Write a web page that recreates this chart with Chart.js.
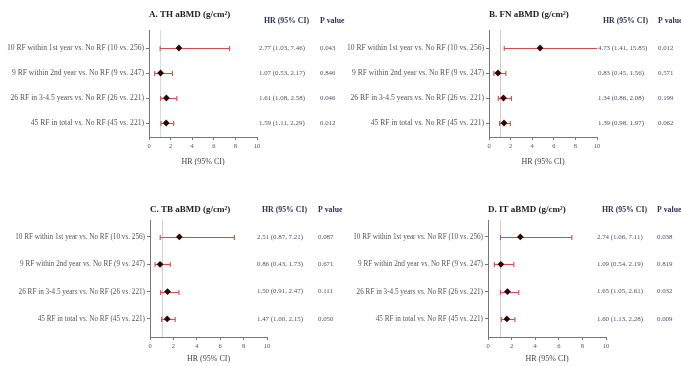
<!DOCTYPE html>
<html><head><meta charset="utf-8">
<script src="https://cdn.jsdelivr.net/npm/chart.js@4"></script>
<style>
html,body{margin:0;padding:0;background:#fff;width:681px;height:366px;overflow:hidden;position:relative}
canvas{position:absolute;background:transparent}
</style></head><body>
<canvas id="cA" width="350" height="183" style="left:0px;top:0px"></canvas>
<canvas id="cB" width="341" height="183" style="left:340px;top:0px"></canvas>
<canvas id="cC" width="350" height="183" style="left:0px;top:183px"></canvas>
<canvas id="cD" width="341" height="183" style="left:340px;top:183px"></canvas>
<script>
// ---- data ----
const rowLabels = [
  "10 RF within 1st year vs. No RF (10 vs. 256)",
  "9 RF within 2nd year vs. No RF (9 vs. 247)",
  "26 RF in 3-4.5 years vs. No RF (26 vs. 221)",
  "45 RF in total vs. No RF (45 vs. 221)"
];
const panelTitles = ["A. TH aBMD (g/cm\u00B2)", "B. FN aBMD (g/cm\u00B2)", "C. TB aBMD (g/cm\u00B2)", "D. IT aBMD (g/cm\u00B2)"];
const colHeaders = ["HR (95% CI)", "P value"];
const xAxisTitle = "HR (95% CI)";
const xTicks = [0, 2, 4, 6, 8, 10];

const hrA = [2.77, 1.07, 1.61, 1.59];
const loA = [1.03, 0.53, 1.08, 1.11];
const hiA = [7.46, 2.17, 2.58, 2.29];
const pA  = ["0.043", "0.846", "0.046", "0.012"];

const hrB = [4.73, 0.83, 1.34, 1.39];
const loB = [1.41, 0.45, 0.86, 0.98];
const hiB = [15.85, 1.56, 2.08, 1.97];
const pB  = ["0.012", "0.571", "0.199", "0.062"];

const hrC = [2.51, 0.86, 1.50, 1.47];
const loC = [0.87, 0.43, 0.91, 1.00];
const hiC = [7.21, 1.73, 2.47, 2.15];
const pC  = ["0.087", "0.671", "0.111", "0.050"];

const hrD = [2.74, 1.09, 1.65, 1.60];
const loD = [1.06, 0.54, 1.05, 1.13];
const hiD = [7.11, 2.19, 2.61, 2.28];
const pD  = ["0.038", "0.819", "0.032", "0.009"];

// ---- layout / style ----
const FONT = "'Liberation Serif', 'Times New Roman', serif";
const panels = [
  {id:'cA', w:350, h:183, title:panelTitles[0], hr:hrA, lo:loA, hi:hiA, p:pA,
   area:[149,257,30,137], yMin:0.28, yMax:4.56, titleY:15, headY:21, hrX:259, pX:320, xTitlePad:16, ref:'#c9e4df', lblSize:7.6},
  {id:'cB', w:341, h:183, title:panelTitles[1], hr:hrB, lo:loB, hi:hiB, p:pB,
   area:[149,257,30,137], yMin:0.28, yMax:4.56, titleY:15, headY:21, hrX:258, pX:318, xTitlePad:16, ref:'#dccaca', lblSize:7.6},
  {id:'cC', w:350, h:183, title:panelTitles[2], hr:hrC, lo:loC, hi:hiC, p:pC,
   area:[150,267,37,154], yMin:0.38, yMax:4.66, titleY:27, headY:27, hrX:257, pX:318, xTitlePad:2, ref:'#dccaca', lblSize:7.2},
  {id:'cD', w:341, h:183, title:panelTitles[3], hr:hrD, lo:loD, hi:hiD, p:pD,
   area:[148,266,37,154], yMin:0.38, yMax:4.66, titleY:27, headY:27, hrX:257, pX:317, xTitlePad:2, ref:'#d6d0d0', lblSize:7.2}
];

const forestPlugin = {
  id: 'forest',
  beforeDatasetsDraw(chart) {
    const P = chart.options.plugins.forest;
    const {ctx, chartArea: ca} = chart;
    const xs = chart.scales.x, ys = chart.scales.y;
    ctx.save();
    const xr = Math.round(xs.getPixelForValue(1)) + 0.5;
    ctx.strokeStyle = P.ref; ctx.lineWidth = 1;
    ctx.beginPath(); ctx.moveTo(xr, ca.top); ctx.lineTo(xr, ca.bottom); ctx.stroke();
    ctx.strokeStyle = '#d44c4c'; ctx.lineWidth = 1.1;
    P.lo.forEach((lo, i) => {
      const hi = P.hi[i];
      const y = Math.round(ys.getPixelForValue(i + 1)) + 0.5;
      const x1 = xs.getPixelForValue(lo);
      const x2 = xs.getPixelForValue(Math.min(hi, xs.max));
      ctx.beginPath(); ctx.moveTo(x1, y); ctx.lineTo(x2, y); ctx.stroke();
      ctx.beginPath(); ctx.moveTo(x1, y - 2.5); ctx.lineTo(x1, y + 2.5); ctx.stroke();
      if (hi <= xs.max) { ctx.beginPath(); ctx.moveTo(x2, y - 2.5); ctx.lineTo(x2, y + 2.5); ctx.stroke(); }
    });
    ctx.restore();
  },
  afterDraw(chart) {
    const P = chart.options.plugins.forest;
    const {ctx, chartArea: ca} = chart;
    const ys = chart.scales.y;
    ctx.save();
    ctx.textBaseline = 'middle'; ctx.textAlign = 'left';
    ctx.fillStyle = '#222';
    ctx.font = `bold 9px ${FONT}`;
    ctx.fillText(P.title, ca.left, P.titleY);
    ctx.fillStyle = '#33335a';
    ctx.font = `bold 7.8px ${FONT}`;
    ctx.fillText(colHeaders[0], P.hrX + 5, P.headY);
    ctx.fillText(colHeaders[1], P.pX, P.headY);
    ctx.fillStyle = '#50506a';
    ctx.font = `6.9px ${FONT}`;
    P.hr.forEach((v, i) => {
      const y = ys.getPixelForValue(i + 1);
      ctx.fillText(`${v.toFixed(2)} (${P.lo[i].toFixed(2)}, ${P.hi[i].toFixed(2)})`, P.hrX, y);
      ctx.fillText(P.p[i], P.pX, y);
    });
    ctx.restore();
  }
};

panels.forEach(pn => {
  const [l, r, t, b] = pn.area;
  new Chart(document.getElementById(pn.id), {
    type: 'scatter',
    data: { datasets: [{
      data: pn.hr.map((v, i) => ({x: v, y: i + 1})),
      pointStyle: 'rectRot', pointRadius: 3.4, backgroundColor: '#2a0808', borderWidth: 0
    }]},
    options: {
      responsive: false, animation: false, events: [],
      layout: { padding: { left: 0, top: t, right: pn.w - r, bottom: 0 } },
      plugins: {
        legend: { display: false }, tooltip: { enabled: false },
        forest: { ref: pn.ref, lo: pn.lo, hi: pn.hi, hr: pn.hr, p: pn.p, title: pn.title,
                  titleY: pn.titleY, headY: pn.headY, hrX: pn.hrX, pX: pn.pX }
      },
      scales: {
        x: {
          type: 'linear', min: 0, max: 10,
          afterBuildTicks: s => { s.ticks = xTicks.map(v => ({value: v})); },
          afterFit: s => { s.height = pn.h - b; },
          ticks: { font: { family: FONT, size: 6.5 }, color: '#555', padding: 2 },
          grid: { drawOnChartArea: false, tickLength: 3, color: '#777' },
          border: { color: '#777', width: 1 },
          title: { display: true, text: xAxisTitle, color: '#444',
                   font: { family: FONT, size: 8 }, padding: { top: 0, bottom: pn.xTitlePad } }
        },
        y: {
          type: 'linear', reverse: true, min: pn.yMin, max: pn.yMax,
          afterBuildTicks: s => { s.ticks = rowLabels.map((_, i) => ({value: i + 1})); },
          afterFit: s => { s.width = l; },
          ticks: { callback: v => rowLabels[Math.round(v) - 1], font: { family: FONT, size: pn.lblSize },
                   color: '#555', padding: 2, autoSkip: false },
          grid: { drawOnChartArea: false, tickLength: 3, color: '#777' },
          border: { color: '#777', width: 1 }
        }
      }
    },
    plugins: [forestPlugin]
  });
});
</script>
</body></html>
